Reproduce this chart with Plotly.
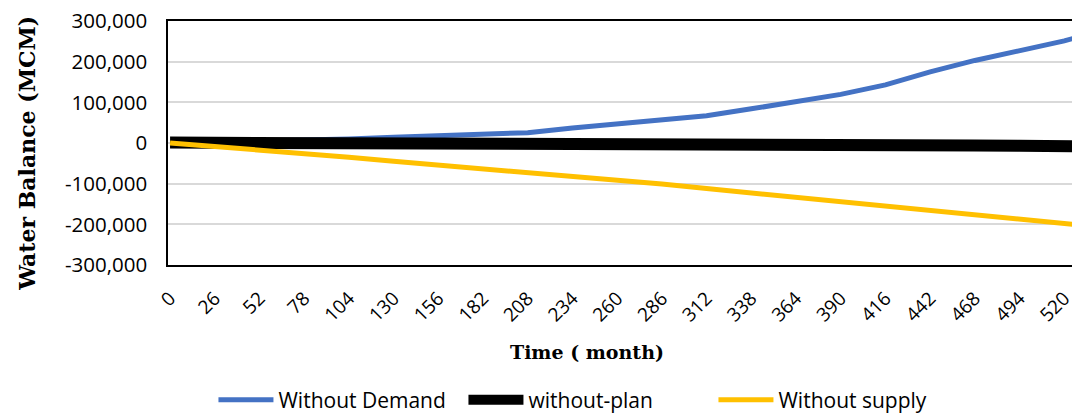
import plotly.graph_objects as go

# Month index of each sampled point
months = [0, 26, 52, 78, 104, 130, 156, 182, 208, 234, 260, 286, 312, 338,
          364, 390, 416, 442, 468, 494, 520, 525]

# Water balance (MCM) for each scenario
without_demand = [0, 2000, 4000, 7000, 10000, 14000, 18000, 21000, 25500, 37000,
                  46500, 54500, 67000, 84000, 103000, 119500, 143000, 175000,
                  203000, 226000, 251000, 257000]
without_plan = [1000, 1000, 800, 600, 500, 300, 200, 100, 0, 0, 0, -500, -1000,
                -1800, -2500, -3200, -4000, -5000, -6000, -7000, -8000, -8200]
without_supply = [0, -8000, -16000, -25000, -35000, -45000, -54000, -63000,
                  -71000, -80000, -90000, -101000, -112000, -123000, -134000,
                  -145000, -156000, -167000, -178000, -188000, -198000, -200000]

tick_months = list(range(0, 521, 26))
y_ticks = [-300000, -200000, -100000, 0, 100000, 200000, 300000]

fig = go.Figure()
fig.add_trace(go.Scatter(x=months, y=without_demand, mode="lines",
                         name="Without Demand",
                         line=dict(color="#4472C4", width=5)))
fig.add_trace(go.Scatter(x=months, y=without_plan, mode="lines",
                         name="without-plan",
                         line=dict(color="#000000", width=12)))
fig.add_trace(go.Scatter(x=months, y=without_supply, mode="lines",
                         name="Without supply",
                         line=dict(color="#FFC000", width=5)))

tick_font = dict(family="Open Sans", size=20.5, color="#000000")
title_font = dict(family="DejaVu Serif", size=22, color="#000000")

fig.update_layout(
    width=1075, height=413,
    margin=dict(l=168, r=0, t=21, b=148),
    paper_bgcolor="white", plot_bgcolor="white",
    showlegend=True,
    legend=dict(orientation="h", x=0.5474, y=0.031, xref="container",
                yref="container", xanchor="center", yanchor="middle",
                font=dict(family="Open Sans", size=21, color="#000000"),
                itemwidth=55, entrywidth=180, entrywidthmode="pixels"),
    xaxis=dict(range=[-1.2, 524.5], tickmode="array", tickvals=tick_months,
               ticktext=[str(m) for m in tick_months], tickangle=-45,
               tickfont=dict(family="Open Sans", size=19, color="#000000"),
               showgrid=False, zeroline=False, showline=True, mirror=True,
               linecolor="#000000", linewidth=1.5, ticks="",
               ticklabelstandoff=13, ticklabeloverflow="allow"),
    yaxis=dict(range=[-300000, 300000], tickmode="array", tickvals=y_ticks,
               ticktext=[f"{v:,}" for v in y_ticks], tickfont=tick_font,
               showgrid=True, gridcolor="#D9D9D9", gridwidth=1.5,
               zeroline=False, showline=True, linecolor="#000000",
               linewidth=1.5, ticks="", ticklabelstandoff=15),
    annotations=[
        dict(text="<b>Water Balance (MCM)</b>", xref="paper", yref="paper",
             x=-0.156, y=0.46, xanchor="center", yanchor="middle",
             textangle=-90, showarrow=False, font=title_font),
        dict(text="<b>Time ( month)</b>", xref="paper", yref="paper",
             x=0.463, y=-0.357, xanchor="center", yanchor="middle",
             showarrow=False, font=dict(family="DejaVu Serif", size=19,
                                        color="#000000")),
    ],
)

fig.write_html("out.html")
